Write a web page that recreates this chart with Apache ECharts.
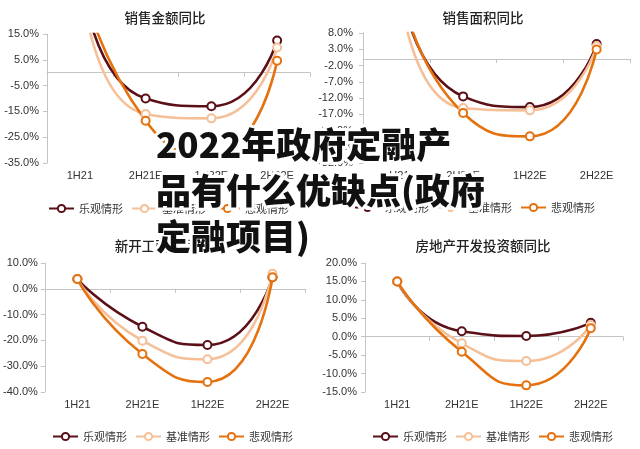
<!DOCTYPE html>
<html>
<head>
<meta charset="utf-8">
<script src="https://cdn.jsdelivr.net/npm/echarts@6/dist/echarts.min.js"></script>
<style>
html, body { margin: 0; padding: 0; background: #fff; }
#chart1 { width: 640px; height: 449px; }
</style>
</head>
<body>
<div id="chart1"></div>
<script>
var categories = ['1H21', '2H21E', '1H22E', '2H22E'];
var seriesNames = ['乐观情形', '基准情形', '悲观情形'];
var titles = ['销售金额同比', '销售面积同比', '新开工面积同比', '房地产开发投资额同比'];

// 销售金额同比
var amountOpt = [38.9, -10.0, -13.0, 12.5];
var amountBase = [38.9, -16.0, -17.7, 9.8];
var amountPess = [38.9, -18.6, -31.5, 4.6];
var amountTicks = [-35, -25, -15, -5, 5, 15];

// 销售面积同比
var areaOpt = [27.7, -11.5, -14.8, 4.6];
var areaBase = [27.7, -15.1, -15.8, 3.9];
var areaPess = [27.7, -16.6, -23.8, 2.9];
var areaTicks = [-32, -27, -22, -17, -12, -7, -2, 3, 8];

// 新开工面积同比
var startOpt = [3.8, -14.7, -21.8, 4.5];
var startBase = [3.8, -20.1, -27.3, 5.8];
var startPess = [3.8, -25.3, -36.1, 4.5];
var startTicks = [-40, -30, -20, -10, 0, 10];

// 房地产开发投资额同比
var investOpt = [15.0, 1.5, 0.2, 3.8];
var investBase = [15.0, -1.8, -6.6, 3.2];
var investPess = [15.0, -4.1, -13.2, 2.3];
var investTicks = [-15, -10, -5, 0, 5, 10, 15, 20];

var colors = ['#5b0f17', '#f5bf98', '#e4720f'];
var headline = '2022年政府定融产\n品有什么优缺点(政府\n定融项目)';

var panels = [
    {data: [amountOpt, amountBase, amountPess], ticks: amountTicks,
     grid: {left: 47, top: 34, width: 263, height: 129}, titleX: 160, titleY: 6, legendX: 48, legendY: 203, labelMargin: 8},
    {data: [areaOpt, areaBase, areaPess], ticks: areaTicks,
     grid: {left: 363, top: 33, width: 267, height: 130}, titleX: 478, titleY: 6, legendX: 354, legendY: 202, labelMargin: 10},
    {data: [startOpt, startBase, startPess], ticks: startTicks,
     grid: {left: 43, top: 263, width: 262, height: 129}, titleX: 157, titleY: 234, legendX: 52, legendY: 431, labelMargin: 7},
    {data: [investOpt, investBase, investPess], ticks: investTicks,
     grid: {left: 365, top: 263, width: 258, height: 129}, titleX: 478, titleY: 234, legendX: 372, legendY: 431, labelMargin: 8}
];

var axisGray = '#c4c4c4';
var option = {
    animation: false,
    title: [], grid: [], xAxis: [], yAxis: [], legend: [], series: [],
    graphic: []
};

panels.forEach(function (p, i) {
    option.title.push({
        text: titles[i], left: p.titleX, top: p.titleY, textAlign: 'center',
        textStyle: {fontSize: 13.5, fontWeight: 500, color: '#222', fontFamily: 'Noto Sans CJK SC'}
    });
    option.grid.push(p.grid);
    // 零线 + 刻度
    option.xAxis.push({
        type: 'category', gridIndex: i, data: categories, position: 'top',
        axisLine: {onZero: true, lineStyle: {color: axisGray, width: 1}},
        axisTick: {show: true, inside: true, length: 4, lineStyle: {color: axisGray}},
        axisLabel: {show: false}, splitLine: {show: false}
    });
    // 底部文字
    option.xAxis.push({
        type: 'category', gridIndex: i, data: categories, position: 'bottom',
        axisLine: {show: false, onZero: false}, axisTick: {show: false},
        axisLabel: {color: '#333', fontSize: 11, fontFamily: 'Liberation Sans', margin: 7}
    });
    option.yAxis.push({
        type: 'value', gridIndex: i,
        min: p.ticks[0], max: p.ticks[p.ticks.length - 1],
        axisLine: {show: true, lineStyle: {color: axisGray}},
        axisTick: {show: true, length: 4, customValues: p.ticks, lineStyle: {color: axisGray}},
        axisLabel: {
            customValues: p.ticks, color: '#333', fontSize: 11, fontFamily: 'Liberation Sans', margin: p.labelMargin,
            formatter: function (v) { return v.toFixed(1) + '%'; }
        },
        splitLine: {show: false}
    });
    option.legend.push({
        data: seriesNames, left: p.legendX, top: p.legendY, padding: 0,
        itemWidth: 25, itemHeight: 9, itemGap: 8,
        textStyle: {color: '#333', fontSize: 11, fontFamily: 'Noto Sans CJK SC'}
    });
    p.data.forEach(function (vals, k) {
        option.series.push({
            name: seriesNames[k], type: 'line', xAxisIndex: i * 2, yAxisIndex: i,
            data: vals, smooth: 0.6, clip: true,
            symbol: 'emptyCircle', symbolSize: 8,
            lineStyle: {width: 2.6, color: colors[k]},
            itemStyle: {color: colors[k], borderWidth: 1.2}
        });
    });
});

// 大标题覆盖文字（白色描边）
option.graphic.push({
    type: 'text', x: 156, y: 122, z: 100,
    style: {text: headline, font: '900 35px "Noto Sans CJK SC"', lineHeight: 46,
            fill: '#fff', stroke: '#fff', lineWidth: 6, verticalAlign: 'top'}
});
option.graphic.push({
    type: 'text', x: 156, y: 122, z: 101,
    style: {text: headline, font: '900 35px "Noto Sans CJK SC"', lineHeight: 46,
            fill: '#111', verticalAlign: 'top'}
});

var myChart = echarts.init(document.getElementById('chart1'));
myChart.setOption(option);
</script>
</body>
</html>
